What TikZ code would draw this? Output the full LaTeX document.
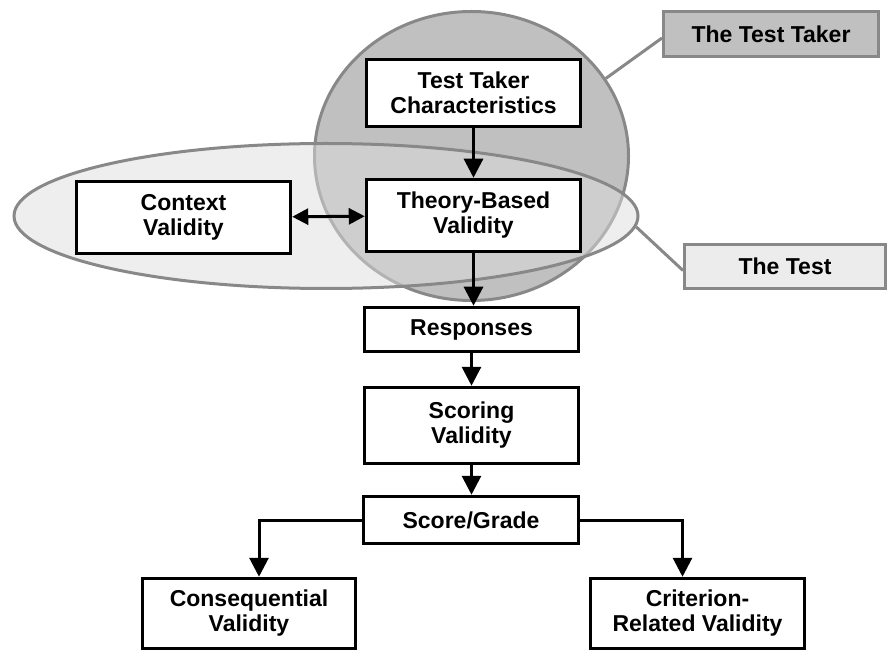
\documentclass[tikz,border=0pt]{standalone}
\usepackage{fontspec}
\setmainfont{Liberation Sans}
\usetikzlibrary{shapes.geometric,arrows.meta,positioning,calc}
\definecolor{zonegray}{HTML}{C0C0C0}
\definecolor{zonelight}{HTML}{DDDDDD}
\definecolor{rimgray}{HTML}{888888}
\definecolor{tagpale}{HTML}{ECECEC}

\begin{document}
\begin{tikzpicture}[x=1pt, y=-1pt, >={Triangle[width=19pt,length=19pt]},
        box/.style={draw=black, line width=3.5pt, fill=white, align=center, inner sep=0pt, font=\fontsize{23}{25}\selectfont\bfseries},
        tag/.style={draw=rimgray, line width=3pt, align=center, inner sep=0pt, font=\fontsize{23}{25}\selectfont\bfseries},
        flow/.style={->, line width=3pt}]
        \useasboundingbox (0,0) rectangle (889,652);
        % Test taker circle and test ellipse
        \node[ellipse, draw=rimgray, line width=3pt, fill=zonegray, minimum width=314, minimum height=289, inner sep=0pt] (takerzone) at (471.5,156) {};
        \node[ellipse, draw=rimgray, line width=3pt, fill=zonelight, fill opacity=0.5, minimum width=624, minimum height=145, inner sep=0pt] (testzone) at (326,216) {};
        % Zone labels
        \node[tag, fill=zonegray, minimum width=215, minimum height=45] (takertag) at (771,34) {The Test Taker};
        \node[tag, fill=tagpale, minimum width=201, minimum height=44] (testtag) at (785,266.5) {The Test};
        \draw[rimgray, line width=3pt] (takerzone.30) -- ([yshift=-4pt]takertag.west);
        \draw[rimgray, line width=3pt] (testzone.-2) -- ([yshift=-4pt]testtag.west);
        % Validity boxes
        \node[box, minimum width=214, minimum height=67] (ttc) at (473.5,93) {Test Taker\\Characteristics};
        \node[box, minimum width=214, minimum height=72] (tbv) at (473.5,215.5) {Theory-Based\\Validity};
        \node[box, minimum width=214, minimum height=72] (ctx) at (183.5,217.5) {Context\\Validity};
        \node[box, minimum width=214, minimum height=44] (resp) at (471.5,329.5) {Responses};
        \node[box, minimum width=214, minimum height=76] (scor) at (471.5,425.5) {Scoring\\Validity};
        \node[box, minimum width=215, minimum height=47] (grade) at (471,520) {Score/Grade};
        \node[box, minimum width=213, minimum height=70] (cons) at (249,613.5) {Consequential\\Validity};
        \node[box, minimum width=214, minimum height=70] (crit) at (697.5,613.5) {Criterion-\\Related Validity};
        % Connectors
        \draw[flow] (ttc) -- (tbv);
        \draw[<->, line width=3pt, >={Triangle[width=16pt,length=16pt]}] (ctx) -- (tbv);
        \draw[flow] (tbv.south) -- (tbv.south |- resp.north);
        \draw[flow] (resp) -- (scor);
        \draw[flow] (scor.south) -- (scor.south |- grade.north);
        \draw[flow] (grade.west) -| ([xshift=10pt]cons.north);
        \draw[flow] (grade.east) -| ([xshift=-15pt]crit.north);
\end{tikzpicture}
\end{document}
